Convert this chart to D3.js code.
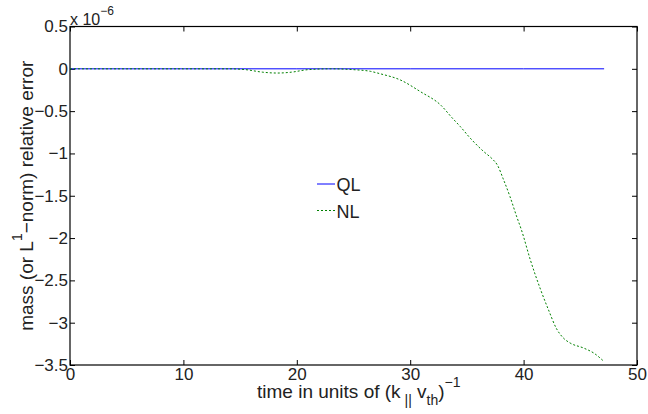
<!DOCTYPE html>
<html><head><meta charset="utf-8">
<script src="https://cdn.jsdelivr.net/npm/d3@7"></script>
<style>body{margin:0;background:#fff}svg{display:block}text{font-family:"Liberation Sans",Arial,sans-serif;fill:#222}</style>
</head><body>
<script>
const xTicks = [0, 10, 20, 30, 40, 50];
const yTicks = [0.5, 0, -0.5, -1, -1.5, -2, -2.5, -3, -3.5];
const qlTime = [0, 10, 20, 30, 40, 47.1];
const qlVal  = [0, 0, 0, 0, 0, 0];
const nlTime = [0, 5, 10, 14, 15.5, 17, 18.3, 19.5, 21, 23, 25, 26.5, 27.4, 29.1, 30.9, 32.7, 33.7, 34.4, 35.3, 36.5, 37.2, 37.7, 38.2, 38.8, 39.4, 39.8, 40.6, 41.5, 42.2, 42.9, 43.5, 44.1, 45.3, 46.2, 47.1];
const nlVal  = [0, 0, 0, 0, -0.01, -0.04, -0.05, -0.04, -0.01, 0, -0.01, -0.03, -0.06, -0.13, -0.27, -0.43, -0.58, -0.68, -0.82, -0.98, -1.06, -1.14, -1.30, -1.51, -1.75, -1.90, -2.26, -2.61, -2.85, -3.07, -3.18, -3.24, -3.30, -3.36, -3.46];
const seriesNames = ["QL", "NL"];

const W = 648, H = 414;
const m = {left: 70, right: 11, top: 26.5, bottom: 49};
const svg = d3.select("body").append("svg").attr("width", W).attr("height", H);
const x = d3.scaleLinear().domain([0, 50]).range([m.left, W - m.right]);
const y = d3.scaleLinear().domain([-3.5, 0.5]).range([H - m.bottom, m.top]);
const fmt = v => (v < 0 ? "\u2212" : "") + Math.abs(v);
const fs = 17;

function styleAxis(g) {
  g.select(".domain").remove();
  g.selectAll("line").attr("stroke", "#000").attr("stroke-width", 1);
  g.selectAll("text").attr("font-size", fs).attr("fill", "#222");
}
svg.append("g").attr("transform", `translate(0,${y(-3.5)})`)
  .call(d3.axisBottom(x).tickValues(xTicks).tickSize(-5).tickPadding(3).tickFormat(d => d))
  .call(styleAxis);
svg.append("g").attr("transform", `translate(0,${y(0.5)})`)
  .call(d3.axisTop(x).tickValues(xTicks).tickSize(-5).tickFormat(""))
  .call(styleAxis);
svg.append("g").attr("transform", `translate(${x(0)},0)`)
  .call(d3.axisLeft(y).tickValues(yTicks).tickSize(-5).tickPadding(2).tickFormat(fmt))
  .call(styleAxis);
svg.append("g").attr("transform", `translate(${x(50)},0)`)
  .call(d3.axisRight(y).tickValues(yTicks).tickSize(-5).tickFormat(""))
  .call(styleAxis);
svg.append("rect").attr("x", x(0)).attr("y", y(0.5)).attr("width", x(50) - x(0)).attr("height", y(-3.5) - y(0.5))
  .attr("fill", "none").attr("stroke", "#000").attr("stroke-width", 1.2);

const line = d3.line().x(d => x(d[0])).y(d => y(d[1])).curve(d3.curveMonotoneX);
svg.append("path").datum(qlTime.map((t, i) => [t, qlVal[i]]))
  .attr("d", line).attr("fill", "none").attr("stroke", "#0000ff").attr("stroke-width", 1);
svg.append("path").datum(nlTime.map((t, i) => [t, nlVal[i]]))
  .attr("d", line).attr("fill", "none").attr("stroke", "#008000").attr("stroke-width", 1).attr("stroke-dasharray", "2,2");

// exponent
const ex = svg.append("text").attr("x", x(0) + 0).attr("y", 24.5).attr("font-size", 16);
ex.append("tspan").text("x 10");
ex.append("tspan").attr("dy", -10).attr("font-size", 12).text("\u22126");

// legend
const leg = [{n: seriesNames[0], c: "#0000ff", d: null, y: 184}, {n: seriesNames[1], c: "#008000", d: "2,2", y: 210.5}];
leg.forEach(l => {
  svg.append("line").attr("x1", 317).attr("x2", 335).attr("y1", l.y).attr("y2", l.y)
    .attr("stroke", l.c).attr("stroke-width", 1).attr("stroke-dasharray", l.d);
  svg.append("text").attr("x", 336.5).attr("y", l.y + 7).attr("font-size", 18).text(l.n);
});

// x label
const xl = svg.append("text").attr("x", 257).attr("y", 397.5).attr("font-size", 19);
xl.append("tspan").text("time in units of (k");
xl.append("tspan").attr("dy", 7).attr("font-size", 14).text(" ||");
xl.append("tspan").attr("dy", -7).text(" v");
xl.append("tspan").attr("dy", 7).attr("font-size", 14).text("th");
xl.append("tspan").attr("dy", -7).text(")");
xl.append("tspan").attr("dy", -11).attr("font-size", 14).text("\u22121");

// y label
const yl = svg.append("text").attr("transform", `translate(33,${(y(0.5) + y(-3.5)) / 2}) rotate(-90)`)
  .attr("text-anchor", "middle").attr("font-size", 19);
yl.append("tspan").text("mass (or L");
yl.append("tspan").attr("dy", -11).attr("font-size", 14).text("1");
yl.append("tspan").attr("dy", 11).text("\u2212norm) relative error");
</script>
</body></html>
